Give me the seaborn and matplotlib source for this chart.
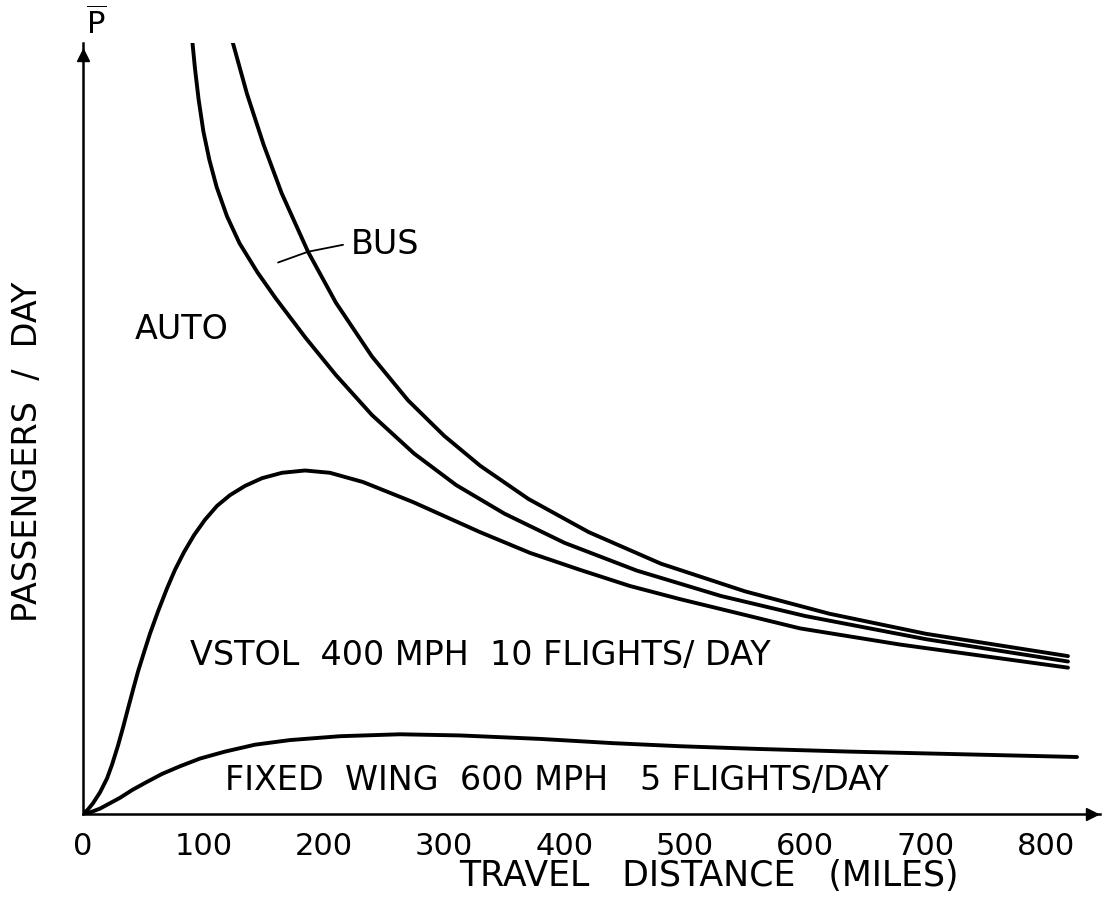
import numpy as np
import pandas as pd
import matplotlib
matplotlib.use("Agg")
import matplotlib.pyplot as plt
import seaborn as sns

# curve values (x = miles, y = relative passengers/day)
upper_x = [123.8, 136.2, 150.0, 165.0, 186.9, 210.0, 240.0, 270.0, 300.0, 330.0,
           370.0, 420.0, 480.0, 550.0, 620.0, 700.0, 818.1]
upper_y = [100.5, 93.5, 86.9, 80.6, 73.0, 66.4, 59.4, 53.7, 49.1, 45.2,
           40.9, 36.6, 32.5, 28.9, 26.0, 23.4, 20.5]

lower_x = [90.5, 93.0, 96.0, 100.0, 105.0, 111.0, 119.6, 130.0, 145.0, 160.3,
           185.0, 210.0, 240.0, 275.0, 310.0, 350.0, 400.0, 460.0, 530.0,
           600.0, 700.0, 818.1]
lower_y = [100.8, 96.8, 92.8, 88.6, 84.9, 81.4, 77.6, 74.1, 70.3, 66.9,
           61.8, 57.0, 51.8, 46.8, 42.7, 39.0, 35.2, 31.6, 28.3,
           25.7, 22.7, 19.8]

vstol_x = [0, 4.2, 8.3, 14.1, 19.9, 24.1, 29.1, 33.2, 37.4, 41.5, 45.7, 50.7,
           55.6, 62.3, 69.8, 76.4, 83.9, 92.2, 101.3, 111.3, 122.1, 134.6,
           148.7, 165.3, 184.4, 205.1, 232.6, 274.1, 329.7, 371.3, 412.8,
           454.3, 495.8, 545.7, 595.5, 678.6, 818.1]
vstol_y = [0, 0.6, 1.4, 2.8, 4.6, 6.4, 8.9, 11.2, 13.7, 16.1, 18.5, 21.0,
           23.4, 26.3, 29.3, 31.7, 34.0, 36.2, 38.2, 40.0, 41.4, 42.6,
           43.6, 44.3, 44.6, 44.3, 43.1, 40.5, 36.6, 33.9, 31.7,
           29.6, 27.9, 26.0, 24.1, 22.0, 19.0]

fixed_x = [0, 5.8, 14.1, 22.4, 30.7, 40.7, 52.3, 65.6, 80.6, 97.2, 117.9,
           142.9, 172.0, 213.5, 263.3, 313.1, 379.6, 440.0, 495.8, 560.0,
           637.0, 825.6]
fixed_y = [0, 0.2, 0.7, 1.4, 2.1, 3.1, 4.1, 5.2, 6.2, 7.2, 8.1,
           9.0, 9.6, 10.1, 10.35, 10.2, 9.75, 9.2, 8.8, 8.45,
           8.1, 7.4]

bus_leader_x = [162.0, 186.9, 216.0]
bus_leader_y = [71.6, 73.0, 73.9]

tick_vals = [0, 100, 200, 300, 400, 500, 600, 700, 800]
tick_labels = [str(t) for t in tick_vals]

sns.set_theme(style="white")
plt.rcParams['font.family'] = ['DejaVu Sans']
plt.rcParams['text.color'] = 'black'
plt.rcParams['xtick.color'] = 'black'

fig = plt.figure(figsize=(11.04, 8.99), dpi=100)
ax = fig.add_axes([83 / 1104, 85 / 899, 1017 / 1104, 771 / 899])

lw = 2.8
for xs, ys in [(upper_x, upper_y), (lower_x, lower_y), (vstol_x, vstol_y), (fixed_x, fixed_y)]:
    df = pd.DataFrame({'x': xs, 'y': ys})
    sns.lineplot(data=df, x='x', y='y', color='black', lw=lw, ax=ax,
                 sort=False, estimator=None)

# leader line for BUS
ax.plot(bus_leader_x, bus_leader_y, color='black', lw=1.3)

ax.set_xlim(0, 844.7)
ax.set_ylim(0, 100.1)

for s in ['top', 'right']:
    ax.spines[s].set_visible(False)
for s in ['left', 'bottom']:
    ax.spines[s].set_color('black')
    ax.spines[s].set_linewidth(1.8)

ax.set_yticks([])
ax.set_xticks(tick_vals)
ax.set_xticklabels(tick_labels)
ax.tick_params(axis='x', direction='in', length=18, width=1.1, color='black',
               pad=13, labelsize=22, labelcolor='black')
ax.set_xlabel('')
ax.set_ylabel('')

# arrow heads
ax.plot(0, 0.985, marker='^', color='black', markersize=9, transform=ax.transAxes, clip_on=False)
ax.plot(0.992, 0, marker='>', color='black', markersize=9, transform=ax.transAxes, clip_on=False)

fs = 24
ax.text(82.2, 62.9, 'AUTO', fontsize=fs, ha='center', va='center')
ax.text(222.6, 73.9, 'BUS', fontsize=fs, ha='left', va='center')
ax.text(88.9, 20.6, 'VSTOL  400 MPH  10 FLIGHTS/ DAY', fontsize=fs, ha='left', va='center')
ax.text(118.0, 4.4, 'FIXED  WING  600 MPH   5 FLIGHTS/DAY', fontsize=fs, ha='left', va='center')

fig.text(709 / 1104, 1 - 876 / 899, 'TRAVEL   DISTANCE   (MILES)', fontsize=25,
         ha='center', va='center')
fig.text(28 / 1104, 1 - 452 / 899, 'PASSENGERS  /  DAY', fontsize=fs, rotation=90,
         ha='center', va='center')
fig.text(96 / 1104, 1 - 24 / 899, r'$\overline{\mathrm{P}}$', fontsize=22,
         ha='center', va='center')

fig.savefig('out.png', dpi=100, facecolor='white')
